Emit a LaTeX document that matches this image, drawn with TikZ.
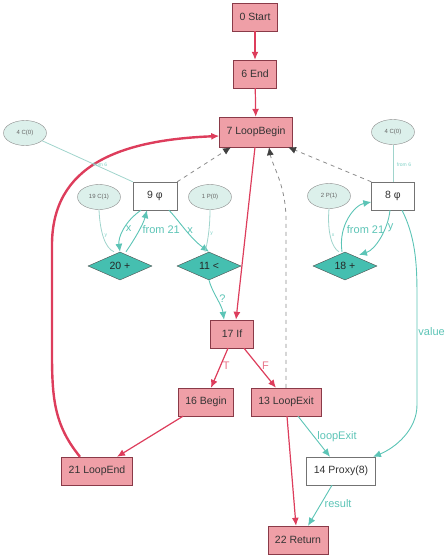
\documentclass[tikz,border=0pt]{standalone}
\usepackage{fontspec}
\setmainfont{Liberation Sans}
\usetikzlibrary{shapes.geometric,arrows.meta}
\definecolor{nodered}{HTML}{EF9FA7}
\definecolor{rededge}{HTML}{DD3D5C}
\definecolor{redborder}{HTML}{8A3A48}
\definecolor{redlabel}{HTML}{E8758A}
\definecolor{tealfill}{HTML}{45BFB0}
\definecolor{tealedge}{HTML}{5CC4B6}
\definecolor{lightteal}{HTML}{A0D4CC}
\definecolor{ellfill}{HTML}{DCF0EB}
\tikzset{
  ctrl/.style={draw=redborder, fill=nodered, minimum height=28pt, inner sep=0pt, font=\fontsize{10.5}{12}\selectfont, text=black!80},
  databox/.style={draw=black!55, fill=white, minimum height=28pt, inner sep=0pt, font=\fontsize{10.5}{12}\selectfont, text=black!80},
  diam/.style={diamond, draw=black!70, fill=tealfill, aspect=2.3, minimum width=64pt, minimum height=28pt, inner sep=0pt, font=\fontsize{10.5}{12}\selectfont, text=black!85},
  ell/.style={ellipse, draw=black!45, fill=ellfill, minimum width=43pt, minimum height=25pt, inner sep=0pt, font=\fontsize{6}{7}\selectfont, text=black!60},
  redarrow/.style={draw=rededge, line width=1.2pt, -{Latex[length=8pt,width=7pt]}},
  tealarrow/.style={draw=tealedge, line width=0.9pt, -{Latex[length=8pt,width=7pt]}},
  inline/.style={draw=lightteal, line width=0.8pt},
  dasharrow/.style={draw=black!45, dash pattern=on 4pt off 4pt, line width=0.8pt, -{Latex[length=8pt,width=7pt,color=black!75]}},
  tlab/.style={text=tealedge, font=\fontsize{11}{13}\selectfont, inner sep=1pt},
  rlab/.style={text=redlabel, font=\fontsize{11}{13}\selectfont, inner sep=1pt},
  tiny/.style={text=tealedge!80, font=\fontsize{5}{6}\selectfont, inner sep=0.5pt}
}
\begin{document}
\begin{tikzpicture}[x=1pt,y=-1pt]
\useasboundingbox (0,0) rectangle (447,558);
% control nodes
\node[ctrl, minimum width=45pt] (start) at (255,17) {0 Start};
\node[ctrl, minimum width=43pt] (end) at (255,74) {6 End};
\node[ctrl, minimum width=73pt, minimum height=30pt] (lb) at (256,132) {7 LoopBegin};
\node[ctrl, minimum width=43pt] (if) at (232,334) {17 If};
\node[ctrl, minimum width=55pt] (begin) at (206,402) {16 Begin};
\node[ctrl, minimum width=70pt] (lexit) at (286,402) {13 LoopExit};
\node[ctrl, minimum width=71pt] (lend) at (97,471) {21 LoopEnd};
\node[ctrl, minimum width=60pt] (ret) at (298,540) {22 Return};
% data nodes
\node[databox, minimum width=44pt] (phi9) at (155,196) {9 φ};
\node[databox, minimum width=43pt] (phi8) at (393,196) {8 φ};
\node[databox, minimum width=69pt] (proxy) at (341,471) {14 Proxy(8)};
\node[diam] (add20) at (120,266) {20 +};
\node[diam] (lt11) at (209,266) {11 <};
\node[diam] (add18) at (345,266) {18 +};
\node[ell] (c0l) at (25,133) {4 C(0)};
\node[ell] (c0r) at (393,132) {4 C(0)};
\node[ell] (c1) at (99,197) {19 C(1)};
\node[ell] (p0) at (210,197) {1 P(0)};
\node[ell] (p1) at (329,196) {2 P(1)};
% control edges
\draw[redarrow] (start) -- (end);
\draw[redarrow] (end) -- (lb);
\draw[redarrow] ([xshift=-1pt]lb.south) -- ([xshift=4pt]if.north);
\draw[redarrow] ([xshift=-4pt]if.south) -- node[rlab, right=1pt, pos=0.45] {T} ([xshift=5pt]begin.north);
\draw[redarrow] ([xshift=12pt]if.south) -- node[rlab, right=2pt, pos=0.45] {F} ([xshift=-10pt]lexit.north);
\draw[redarrow] ([xshift=-23pt]begin.south) -- ([xshift=20pt]lend.north);
\draw[redarrow] ([xshift=1pt]lexit.south) -- ([xshift=-2pt]ret.north);
\draw[redarrow, line width=2.4pt] ([xshift=-17pt]lend.north) .. controls (50,420) and (52,390) .. (52,330) -- (52,245) .. controls (52,165) and (120,140) .. ([yshift=-4pt]lb.west);
% dashed back edges
\draw[dasharrow] (phi9.north east) -- ([xshift=-25pt]lb.south);
\draw[dasharrow] (phi8.north west) -- ([xshift=32pt]lb.south);
\draw[dasharrow] (lexit.north) -- (286,220) .. controls (286,185) and (272,165) .. ([xshift=13pt]lb.south);
% data edges
\draw[tealarrow] (lt11.south) .. controls (212,292) and (222,305) .. ([xshift=-8pt]if.north) node[tlab, pos=0.5, right=1pt] {?};
\draw[tealarrow] ([xshift=-14pt]phi9.south) .. controls (124,222) and (118,238) .. (add20.north) node[tlab, pos=0.45, right=0pt] {x};
\draw[tealarrow] ([xshift=6pt]add20.north) .. controls (134,240) and (143,225) .. ([xshift=-8pt]phi9.south) node[tlab, pos=0.55, right=2pt] {from 21};
\draw[tealarrow] ([xshift=14pt]phi9.south) .. controls (180,222) and (190,238) .. (lt11.north) node[tlab, pos=0.5, right=0pt] {x};
\draw[inline] (c1.south) .. controls (100,232) and (105,248) .. ([xshift=-6pt]add20.north) node[tiny, pos=0.45, right=1pt] {y};
\draw[inline] (p0.south) .. controls (210,230) and (207,245) .. ([xshift=-4pt]lt11.north) node[tiny, pos=0.45, right=1pt] {y};
\draw[inline] (c0l) -- (phi9.north west) node[tiny, pos=0.64, above=0pt] {from 6};
\draw[inline] (c0r) -- (phi8) node[tiny, pos=0.55, right=3pt] {from 6};
\draw[inline] (p1.south) .. controls (327,232) and (332,248) .. ([xshift=-6pt]add18.north) node[tiny, pos=0.45, right=1pt] {x};
\draw[tealarrow] ([xshift=-3pt]phi8.south) .. controls (388,230) and (375,250) .. ([xshift=14pt,yshift=-3pt]add18.north) node[tlab, pos=0.3, right=1pt] {y};
\draw[tealarrow] ([xshift=-3pt]add18.north) .. controls (338,225) and (355,205) .. ([yshift=-6pt]phi8.west) node[tlab, pos=0.3, right=2pt] {from 21};
\draw[tealarrow] ([xshift=9pt]phi8.south) .. controls (417,240) and (417,270) .. (417,300) -- node[tlab, pos=0.3, right=0pt] {value} (417,405) .. controls (417,430) and (395,448) .. ([xshift=32pt]proxy.north);
\draw[tealarrow] ([xshift=12pt]lexit.south) -- ([xshift=-11pt]proxy.north) node[tlab, pos=0.5, right=2pt] {loopExit};
\draw[tealarrow] ([xshift=-9pt]proxy.south) -- ([xshift=10pt]ret.north) node[tlab, pos=0.45, right=2pt] {result};
\end{tikzpicture}
\end{document}
